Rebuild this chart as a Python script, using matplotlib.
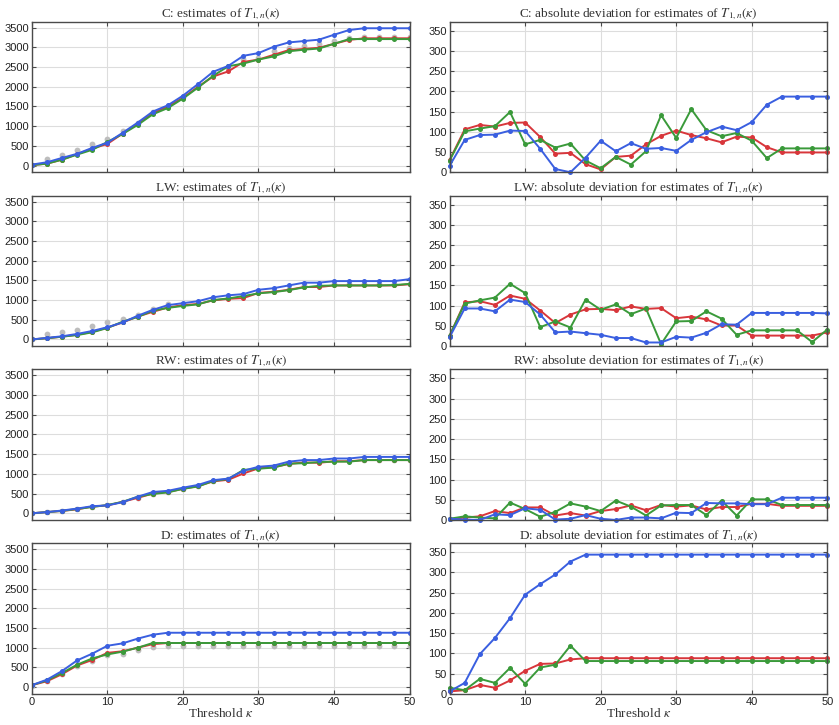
import numpy as np
import matplotlib
matplotlib.use("Agg")
import matplotlib.pyplot as plt

plt.rcParams["font.family"] = ["Liberation Sans", "DejaVu Sans"]
plt.rcParams["mathtext.fontset"] = "stix"

kappa = np.arange(0, 51, 2)
panels = ["C", "LW", "RW", "D"]

# estimates of T_{1,n}(kappa)
est_true = {
    "C": [20, 160, 265, 390, 550, 680, 880, 1080, 1370, 1520, 1740, 2030, 2300, 2480, 2700, 2720,
          2900, 2990, 3040, 3080, 3170, 3250, 3260, 3260, 3260, 3260],
    "LW": [0, 130, 180, 235, 330, 430, 510, 630, 780, 910, 900, 930, 1030, 1080, 1120, 1200,
           1230, 1290, 1380, 1390, 1400, 1400, 1400, 1400, 1400, 1410],
    "RW": [0, 30, 60, 100, 170, 200, 290, 400, 500, 540, 620, 690, 810, 860, 1040, 1140,
           1170, 1250, 1290, 1290, 1320, 1320, 1350, 1350, 1350, 1350],
    "D": [40, 150, 330, 540, 670, 810, 840, 930, 1010, 1050, 1050, 1050, 1050, 1050, 1050, 1050,
          1050, 1050, 1050, 1050, 1050, 1050, 1050, 1050, 1050, 1050],
}
est_red = {
    "C": [10, 50, 150, 290, 430, 550, 810, 1060, 1330, 1500, 1720, 2000, 2260, 2390, 2630, 2690,
          2810, 2930, 2960, 2990, 3090, 3190, 3230, 3230, 3230, 3230],
    "LW": [0, 30, 70, 120, 190, 300, 430, 580, 700, 810, 870, 900, 990, 1030, 1050, 1180,
           1210, 1260, 1330, 1330, 1370, 1370, 1370, 1370, 1370, 1400],
    "RW": [0, 30, 60, 100, 170, 200, 290, 390, 500, 540, 620, 690, 810, 850, 1010, 1140,
           1170, 1250, 1290, 1280, 1320, 1320, 1350, 1350, 1350, 1350],
    "D": [50, 150, 330, 550, 690, 870, 910, 1000, 1090, 1120, 1120, 1120, 1120, 1120, 1120, 1120,
          1120, 1120, 1120, 1120, 1120, 1120, 1120, 1120, 1120, 1120],
}
est_green = {
    "C": [10, 50, 150, 280, 400, 600, 800, 1030, 1300, 1460, 1700, 1980, 2280, 2520, 2590, 2690,
          2770, 2900, 2940, 2970, 3090, 3210, 3210, 3210, 3210, 3210],
    "LW": [0, 30, 70, 110, 180, 290, 450, 570, 730, 800, 850, 890, 1000, 1040, 1100, 1170,
           1200, 1250, 1320, 1360, 1370, 1370, 1370, 1370, 1380, 1410],
    "RW": [0, 30, 60, 110, 160, 210, 290, 420, 490, 530, 620, 680, 820, 870, 1100, 1130,
           1160, 1260, 1270, 1300, 1310, 1310, 1350, 1350, 1350, 1350],
    "D": [50, 170, 360, 570, 730, 830, 900, 1000, 1120, 1120, 1120, 1120, 1120, 1120, 1120, 1120,
          1120, 1120, 1120, 1120, 1120, 1120, 1120, 1120, 1120, 1120],
}
est_blue = {
    "C": [25, 85, 195, 300, 450, 580, 830, 1090, 1370, 1530, 1775, 2070, 2380, 2530, 2785, 2855,
          3015, 3125, 3160, 3195, 3320, 3440, 3485, 3485, 3485, 3485],
    "LW": [0, 40, 80, 140, 215, 310, 430, 600, 750, 870, 920, 970, 1070, 1120, 1150, 1260,
           1300, 1370, 1440, 1440, 1480, 1480, 1480, 1480, 1480, 1530],
    "RW": [0, 30, 70, 120, 180, 200, 280, 420, 540, 570, 650, 720, 840, 880, 1080, 1180,
           1210, 1310, 1350, 1350, 1390, 1390, 1430, 1430, 1430, 1430],
    "D": [50, 190, 410, 680, 850, 1050, 1110, 1230, 1330, 1380, 1380, 1380, 1380, 1380, 1380, 1380,
          1380, 1380, 1380, 1380, 1380, 1380, 1380, 1380, 1380, 1380],
}

# absolute deviations
dev_red = {
    "C": [30, 106, 117, 113, 122, 123, 87, 46, 48, 20, 7, 38, 41, 69, 90, 103,
          92, 84, 74, 88, 86, 62, 49, 49, 49, 49],
    "LW": [25, 108, 111, 102, 125, 117, 88, 57, 78, 91, 92, 89, 98, 92, 94, 69,
           73, 66, 51, 51, 26, 26, 26, 26, 26, 34],
    "RW": [2, 6, 9, 22, 17, 31, 31, 11, 17, 11, 22, 27, 36, 24, 37, 33,
           36, 26, 32, 32, 40, 40, 35, 35, 35, 35],
    "D": [6, 9, 22, 15, 33, 57, 74, 75, 85, 88, 88, 88, 88, 88, 88, 88,
          88, 88, 88, 88, 88, 88, 88, 88, 88, 88],
}
dev_green = {
    "C": [29, 101, 108, 114, 149, 69, 80, 61, 71, 29, 10, 38, 19, 52, 141, 85,
          156, 104, 89, 97, 78, 35, 59, 59, 59, 59],
    "LW": [26, 105, 113, 120, 154, 131, 47, 61, 46, 115, 90, 103, 79, 93, 5, 61,
           62, 86, 68, 28, 39, 39, 39, 39, 10, 41],
    "RW": [3, 9, 6, 4, 43, 27, 8, 20, 41, 33, 22, 48, 33, 11, 36, 37,
           37, 12, 48, 11, 51, 51, 37, 37, 37, 37],
    "D": [15, 9, 37, 27, 64, 25, 65, 72, 119, 81, 81, 81, 81, 81, 81, 81,
          81, 81, 81, 81, 81, 81, 81, 81, 81, 81],
}
dev_blue = {
    "C": [16, 80, 92, 93, 103, 102, 58, 8, 0, 36, 78, 52, 72, 58, 60, 53,
          80, 99, 113, 104, 124, 167, 187, 187, 187, 187],
    "LW": [22, 93, 93, 86, 115, 109, 78, 34, 36, 32, 28, 20, 20, 9, 9, 23,
           21, 33, 54, 53, 82, 82, 82, 82, 82, 81],
    "RW": [3, 1, 0, 14, 12, 29, 25, 1, 3, 12, 3, 0, 6, 6, 4, 18,
           17, 42, 41, 41, 39, 39, 55, 55, 55, 55],
    "D": [6, 27, 98, 138, 187, 245, 271, 295, 327, 344, 344, 344, 344, 344, 344, 344,
          344, 344, 344, 344, 344, 344, 344, 344, 344, 344],
}

c_red = "#d8363b"
c_green = "#3a9a3a"
c_blue = "#3a5fe0"
c_gray = "#bdbdbd"
frame = "#4a4a4a"

fig, axes = plt.subplots(4, 2, figsize=(8.39, 7.25), dpi=100)
fig.subplots_adjust(left=0.038, right=0.986, top=0.970, bottom=0.043, hspace=0.155, wspace=0.106)

title_font = dict(family="Liberation Serif", fontsize=9.5, color="#333333")
lkw = dict(lw=1.4, marker="o", ms=3.6, mec="none")


def style(ax, ylim, yticks):
    ax.set_xlim(0, 50)
    ax.set_ylim(*ylim)
    ax.set_xticks([0, 10, 20, 30, 40, 50])
    ax.set_yticks(yticks)
    ax.grid(True, color="#dddddd", lw=0.8)
    ax.set_axisbelow(True)
    ax.tick_params(direction="in", top=True, right=True, labelsize=8, length=3,
                   color=frame, labelcolor="#222222", pad=2)
    for s in ax.spines.values():
        s.set_color(frame)
        s.set_linewidth(1.0)


for i, p in enumerate(panels):
    ax = axes[i, 0]
    ax.plot(kappa, est_true[p], color=c_gray, ls="none", marker="o", ms=4.2, mec="none")
    ax.plot(kappa, est_red[p], color=c_red, **lkw)
    ax.plot(kappa, est_green[p], color=c_green, **lkw)
    ax.plot(kappa, est_blue[p], color=c_blue, **lkw)
    style(ax, (-170, 3650), np.arange(0, 3501, 500))
    ax.set_title(p + r": estimates of $T_{1,n}(\kappa)$", pad=3, **title_font)

    ax = axes[i, 1]
    ax.plot(kappa, dev_red[p], color=c_red, clip_on=False, **lkw)
    ax.plot(kappa, dev_green[p], color=c_green, clip_on=False, **lkw)
    ax.plot(kappa, dev_blue[p], color=c_blue, clip_on=False, **lkw)
    style(ax, (0, 372), np.arange(0, 351, 50))
    ax.set_title(p + r": absolute deviation for estimates of $T_{1,n}(\kappa)$", pad=3, **title_font)

    if i < 3:
        axes[i, 0].set_xticklabels([])
        axes[i, 1].set_xticklabels([])
    else:
        axes[i, 0].set_xlabel(r"Threshold $\kappa$", labelpad=0, **title_font)
        axes[i, 1].set_xlabel(r"Threshold $\kappa$", labelpad=0, **title_font)

fig.savefig("out.png", dpi=100)
